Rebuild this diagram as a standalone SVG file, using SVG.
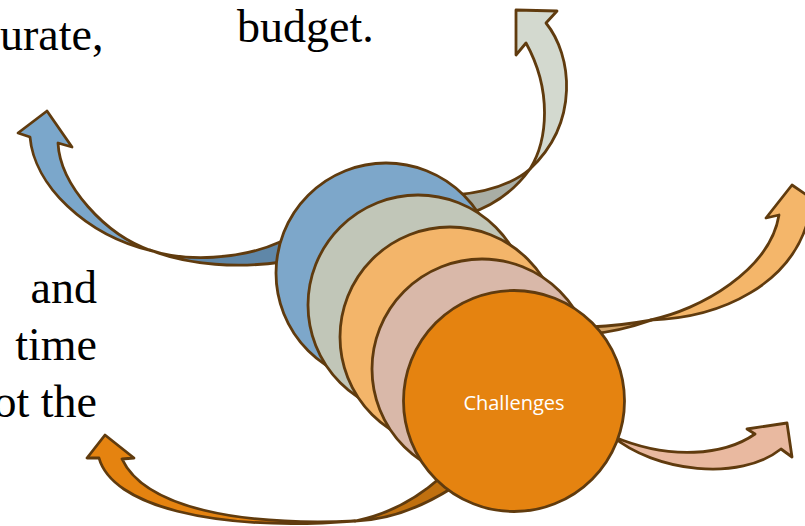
<svg xmlns="http://www.w3.org/2000/svg" width="805" height="526" viewBox="0 0 805 526">
  <style>
    .edge { stroke: #603B0E; stroke-width: 2.8; stroke-linejoin: round; }
    .body { font-family: "Liberation Serif", "Times New Roman", serif; font-size: 46px; fill: #000; }
    .label { font-family: "Open Sans", "Noto Sans", sans-serif; font-size: 20px; fill: #fff; }
  </style>
  <rect width="805" height="526" fill="#fff"/>

  <!-- body text fragments -->
  <g id="text">
    <text class="body" x="0" y="50">urate,</text>
    <text class="body" x="237" y="42">budget.</text>
    <text class="body" x="97" y="303" text-anchor="end">and</text>
    <text class="body" x="97" y="360" text-anchor="end">time</text>
    <text class="body" x="97" y="417" text-anchor="end">ot the</text>
  </g>

  <!-- curved arrows leaving the stack of circles -->
  <g id="connectors">
    <g id="arrow-blue">
      <path class="edge" fill="#5F87A8" d="M150,250 C185,262 240,260 280,242 L282,262 C240,268 190,266 150,250 Z"/>
      <path class="edge" fill="#7BA7CB" d="M47,111 L18,133 L30,137 C34,185 85,235 152,251 C105,235 60,185 58,143 L72,147 Z"/>
    </g>
    <g id="arrow-grey">
      <path class="edge" fill="#A9AEA5" d="M530,169 C515,182 490,192 455,195 L468,214 C495,205 515,190 530,169 Z"/>
      <path class="edge" fill="#D3D9CF" d="M516,10 L557,11 L546,23 C572,55 580,122 530,169 C548,140 552,90 526,43 L516,55 Z"/>
    </g>
    <g id="arrow-amber">
      <path class="edge" fill="#D4A468" d="M652,320 C630,324 610,326 590,327 L590,334 C615,332 635,326 652,320 Z"/>
      <path class="edge" fill="#F4B66A" d="M792,185 L766,218 L779,215 C770,270 700,310 650,320 C720,318 795,285 810,212 L820,204 Z"/>
    </g>
    <g id="arrow-salmon">
      <path class="edge" fill="#E9B9A0" d="M787,423 L747,429 L755,434 C725,455 670,461 612,436 C655,472 740,482 781,449 L792,457 Z"/>
    </g>
    <g id="arrow-orange">
      <path class="edge" fill="#C0700F" d="M355,521 C385,515 415,500 440,478 L452,488 C425,505 390,520 355,521 Z"/>
      <path class="edge" fill="#E58310" d="M105,435 L87,458 L99,458 C112,505 210,532 355,521 C240,526 145,508 122,459 L134,458 Z"/>
    </g>
  </g>

  <!-- stacked circles, back to front -->
  <g id="circle-blue">
    <circle class="edge" cx="386" cy="273" r="110" fill="#7DA7CA"/>
  </g>
  <g id="circle-grey">
    <circle class="edge" cx="418" cy="305" r="110" fill="#C1C6B8"/>
  </g>
  <g id="circle-amber">
    <circle class="edge" cx="450" cy="337" r="110" fill="#F3B56A"/>
  </g>
  <g id="circle-rose">
    <circle class="edge" cx="482" cy="369" r="110" fill="#D9B8A9"/>
  </g>
  <g id="challenges">
    <circle class="edge" cx="514" cy="401" r="110.5" fill="#E58310"/>
    <text class="label" x="514" y="410" text-anchor="middle">Challenges</text>
  </g>
</svg>
